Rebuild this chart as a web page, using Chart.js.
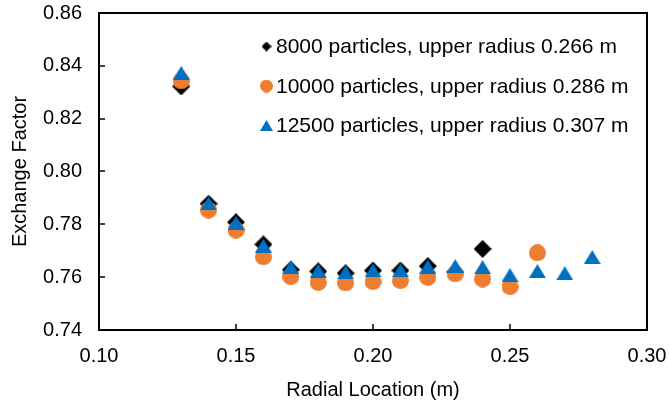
<!DOCTYPE html>
<html>
<head>
<meta charset="utf-8">
<script src="https://cdn.jsdelivr.net/npm/chart.js@4/dist/chart.umd.min.js"></script>
<style>
  html, body { margin: 0; padding: 0; background: #fff; }
  #wrap { width: 669px; height: 403px; }
</style>
</head>
<body>
<div id="wrap"><canvas id="c" width="669" height="403"></canvas></div>
<script>
// ---- data ----
const radialLocation = [0.13, 0.14, 0.15, 0.16, 0.17, 0.18, 0.19, 0.20, 0.21, 0.22, 0.23, 0.24, 0.25, 0.26, 0.27, 0.28];
const ef8000  = [0.8322, 0.7878, 0.7808, 0.7724, 0.7628, 0.7622, 0.7615, 0.7625, 0.7625, 0.7642, 0.7620, 0.7707];
const ef10000 = [0.8343, 0.7854, 0.7778, 0.7677, 0.7602, 0.7580, 0.7578, 0.7583, 0.7587, 0.7599, 0.7612, 0.7593, 0.7564, 0.7692];
const ef12500 = [0.8373, 0.7879, 0.7806, 0.7719, 0.7638, 0.7624, 0.7618, 0.7626, 0.7626, 0.7640, 0.7642, 0.7638, 0.7608, 0.7623, 0.7615, 0.7676];
const seriesLabels = [
  '8000 particles, upper radius 0.266 m',
  '10000 particles, upper radius 0.286 m',
  '12500 particles, upper radius 0.307 m'
];
const xTickValues = [0.10, 0.15, 0.20, 0.25, 0.30];
const yTickValues = [0.74, 0.76, 0.78, 0.80, 0.82, 0.84, 0.86];
const xTitle = 'Radial Location (m)';
const yTitle = 'Exchange Factor';

// ---- styling ----
const FONT = '"Liberation Sans", Arial, sans-serif';
const COL_BLACK = '#000000';
const COL_ORANGE = '#ED7D31';
const COL_BLUE = '#0070C0';

function makeMarker(type, w, h, color) {
  const c = document.createElement('canvas');
  c.width = Math.ceil(w); c.height = Math.ceil(h);
  const g = c.getContext('2d');
  g.fillStyle = color;
  g.beginPath();
  if (type === 'diamond') {
    g.moveTo(w / 2, 0); g.lineTo(w, h / 2); g.lineTo(w / 2, h); g.lineTo(0, h / 2);
  } else if (type === 'circle') {
    g.ellipse(w / 2, h / 2, w / 2, h / 2, 0, 0, Math.PI * 2);
  } else if (type === 'triangle') {
    g.moveTo(w / 2, 0); g.lineTo(w, h); g.lineTo(0, h);
  }
  g.closePath();
  g.fill();
  return c;
}

const mDiamond = makeMarker('diamond', 18, 18, COL_BLACK);
const mCircle = makeMarker('circle', 17, 17, COL_ORANGE);
const mTriangle = makeMarker('triangle', 17, 14, COL_BLUE);
const lDiamond = makeMarker('diamond', 10, 10, COL_BLACK);
const lCircle = makeMarker('circle', 13, 13, COL_ORANGE);
const lTriangle = makeMarker('triangle', 13, 11, COL_BLUE);

function pts(arr) { return arr.map((v, i) => ({ x: radialLocation[i], y: v })); }

const framePlugin = {
  id: 'frame',
  beforeDatasetsDraw(chart) {
    const { ctx, chartArea: a, scales } = chart;
    ctx.save();
    ctx.strokeStyle = '#000';
    ctx.lineWidth = 2;
    ctx.strokeRect(a.left, a.top, a.right - a.left, a.bottom - a.top);
    ctx.lineWidth = 1.5;
    ctx.beginPath();
    scales.x.ticks.forEach(t => {
      const px = Math.round(scales.x.getPixelForValue(t.value));
      if (px <= a.left + 1 || px >= a.right - 1) return;
      ctx.moveTo(px, a.bottom); ctx.lineTo(px, a.bottom - 6);
    });
    scales.y.ticks.forEach(t => {
      const py = Math.round(scales.y.getPixelForValue(t.value));
      if (py <= a.top + 1 || py >= a.bottom - 1) return;
      ctx.moveTo(a.left, py); ctx.lineTo(a.left + 6, py);
    });
    ctx.stroke();
    ctx.restore();
  },
  afterDraw(chart) {
    const { ctx } = chart;
    const markers = [lDiamond, lCircle, lTriangle];
    const centersY = [46.5, 86, 125.5];
    ctx.save();
    ctx.font = '21px ' + FONT;
    ctx.fillStyle = '#000';
    ctx.textBaseline = 'middle';
    ctx.textAlign = 'left';
    seriesLabels.forEach((lab, i) => {
      const m = markers[i];
      ctx.drawImage(m, 266.5 - m.width / 2, centersY[i] - m.height / 2);
      ctx.fillText(lab, 276, centersY[i] + 1);
    });
    ctx.restore();
  }
};

new Chart(document.getElementById('c'), {
  type: 'scatter',
  data: {
    datasets: [
      { label: seriesLabels[2], data: pts(ef12500), pointStyle: mTriangle, order: 0 },
      { label: seriesLabels[1], data: pts(ef10000), pointStyle: mCircle, order: 1 },
      { label: seriesLabels[0], data: pts(ef8000), pointStyle: mDiamond, order: 2 }
    ]
  },
  options: {
    responsive: false,
    devicePixelRatio: 1,
    animation: false,
    layout: { padding: { top: 13, right: 22, left: 0, bottom: 0 } },
    plugins: { legend: { display: false }, tooltip: { enabled: false } },
    elements: { point: { radius: 9, hoverRadius: 9 } },
    scales: {
      x: {
        type: 'linear',
        min: 0.10, max: 0.30,
        afterFit(s) { s.height = 73; s.paddingLeft = 0; s.paddingRight = 0; },
        afterBuildTicks(s) { s.ticks = xTickValues.map(v => ({ value: v })); },
        grid: { display: false, drawTicks: false },
        border: { display: false },
        ticks: { padding: 14, color: '#000', font: { family: FONT, size: 20 }, callback: v => Number(v).toFixed(2), maxRotation: 0 },
        title: { display: true, text: xTitle, color: '#000', font: { family: FONT, size: 20 }, padding: { top: 0, bottom: 1 } }
      },
      y: {
        type: 'linear',
        min: 0.74, max: 0.86,
        afterFit(s) { s.width = 99; s.paddingTop = 0; s.paddingBottom = 0; },
        afterBuildTicks(s) { s.ticks = yTickValues.map(v => ({ value: v })); },
        grid: { display: false, drawTicks: false },
        border: { display: false },
        ticks: { padding: 17, color: '#000', font: { family: FONT, size: 20 }, callback: v => Number(v).toFixed(2) },
        title: { display: true, text: yTitle, color: '#000', font: { family: FONT, size: 20 }, padding: { top: 8, bottom: 0 } }
      }
    }
  },
  plugins: [framePlugin]
});
</script>
</body>
</html>
